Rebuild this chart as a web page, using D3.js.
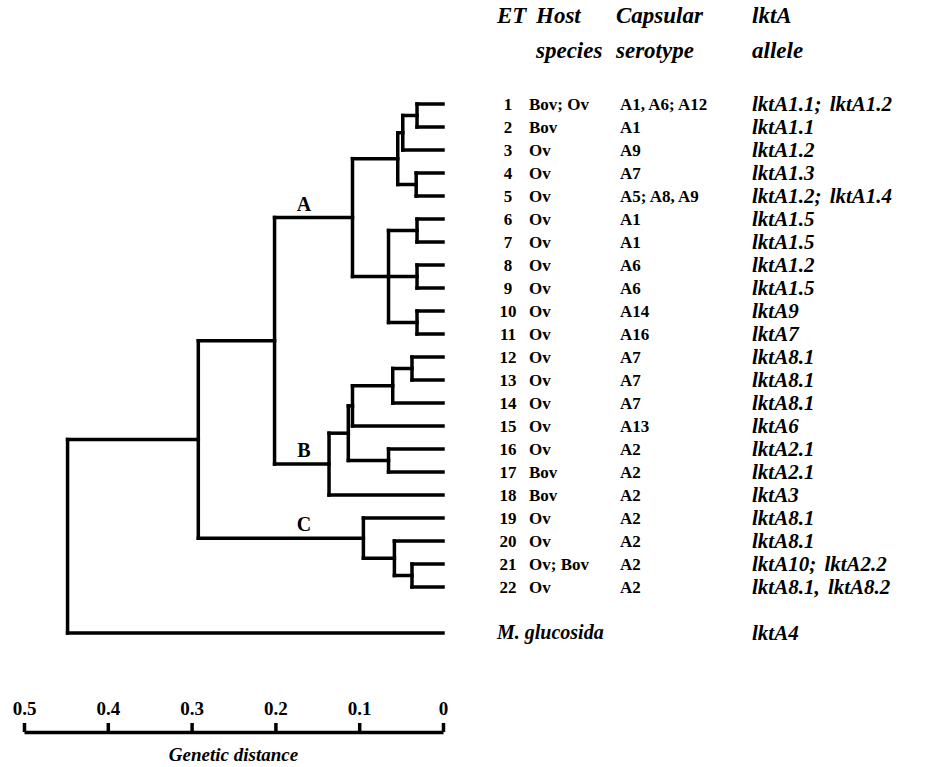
<!DOCTYPE html>
<html>
<head>
<meta charset="utf-8">
<script src="https://cdn.jsdelivr.net/npm/d3@7"></script>
<style>
  body { margin: 0; background: #fff; }
  text { font-family: "Liberation Serif", "Times New Roman", serif; fill: #000; }
</style>
</head>
<body>
<div id="chart"></div>
<script>
// table columns, one entry per ET
var etNumbers = ["1","2","3","4","5","6","7","8","9","10","11","12","13","14","15","16","17","18","19","20","21","22"];
var hostSpecies = ["Bov; Ov","Bov","Ov","Ov","Ov","Ov","Ov","Ov","Ov","Ov","Ov","Ov","Ov","Ov","Ov","Ov","Bov","Bov","Ov","Ov","Ov; Bov","Ov"];
var serotypes = ["A1, A6; A12","A1","A9","A7","A5; A8, A9","A1","A1","A6","A6","A14","A16","A7","A7","A7","A13","A2","A2","A2","A2","A2","A2","A2"];
var alleles = ["lktA1.1; lktA1.2","lktA1.1","lktA1.2","lktA1.3","lktA1.2; lktA1.4","lktA1.5","lktA1.5","lktA1.2","lktA1.5","lktA9","lktA7","lktA8.1","lktA8.1","lktA8.1","lktA6","lktA2.1","lktA2.1","lktA3","lktA8.1","lktA8.1","lktA10; lktA2.2","lktA8.1, lktA8.2"];
var outgroup = "M. glucosida";
var outgroupAllele = "lktA4";

// dendrogram joins: [node, children, genetic distance]
var joins = [
  ["n1_2",   ["1","2"], 0.031],
  ["n1_3",   ["n1_2","3"], 0.048],
  ["n4_5",   ["4","5"], 0.032],
  ["n1_5",   ["n1_3","n4_5"], 0.054],
  ["n6_7",   ["6","7"], 0.031],
  ["n8_9",   ["8","9"], 0.031],
  ["n10_11", ["10","11"], 0.031],
  ["n6_11",  ["n6_7","n8_9","n10_11"], 0.065],
  ["A",      ["n1_5","n6_11"], 0.108],
  ["n12_13", ["12","13"], 0.037],
  ["n12_14", ["n12_13","14"], 0.060],
  ["n12_15", ["n12_14","15"], 0.108],
  ["n16_17", ["16","17"], 0.065],
  ["n12_17", ["n12_15","n16_17"], 0.113],
  ["B",      ["n12_17","18"], 0.136],
  ["n21_22", ["21","22"], 0.037],
  ["n20_22", ["20","n21_22"], 0.058],
  ["C",      ["19","n20_22"], 0.095],
  ["AB",     ["A","B"], 0.201],
  ["ABC",    ["AB","C"], 0.292],
  ["root",   ["ABC", outgroup], 0.448]
];
var cladeLabels = ["A","B","C"];
var distTicks = [0.5, 0.4, 0.3, 0.2, 0.1, 0];

var width = 927, height = 767;

var svg = d3.select("#chart")
  .append("svg")
    .attr("width", width)
    .attr("height", height);

// x: genetic distance, y: row of the table
var x = d3.scaleLinear()
  .domain([0.5, 0])
  .range([24, 443]);

var rowY = d3.scaleLinear()
  .domain([0, 21])
  .range([104, 587]);

// build the tree out of the joins
var nodes = {};
etNumbers.forEach(function(d, i) { nodes[d] = {name: d, dist: 0, row: i}; });
nodes[outgroup] = {name: outgroup, dist: 0, row: 23};
joins.forEach(function(j) {
  nodes[j[0]] = {name: j[0], dist: j[2], children: j[1].map(function(c) { return nodes[c]; })};
});

var root = d3.hierarchy(nodes["root"]);
root.eachAfter(function(n) {
  n.px = x(n.data.dist);
  if (n.children) {
    n.py = (n.children[0].py + n.children[n.children.length - 1].py) / 2;
  } else {
    n.py = rowY(n.data.row);
  }
});

var tree = svg.append("g")
  .attr("fill", "none")
  .attr("stroke", "#000")
  .attr("stroke-width", 3.5)
  .attr("stroke-linecap", "square");

// vertical bar at each join
tree.selectAll(".vbar")
  .data(root.descendants().filter(function(d) { return d.children; }))
  .enter()
  .append("line")
    .attr("x1", function(d) { return d.px; })
    .attr("x2", function(d) { return d.px; })
    .attr("y1", function(d) { return d.children[0].py; })
    .attr("y2", function(d) { return d.children[d.children.length - 1].py; });

// horizontal branch to each child
tree.selectAll(".hbar")
  .data(root.descendants().filter(function(d) { return d.parent; }))
  .enter()
  .append("line")
    .attr("x1", function(d) { return d.parent.px; })
    .attr("x2", function(d) { return d.px; })
    .attr("y1", function(d) { return d.py; })
    .attr("y2", function(d) { return d.py; });

// clade letters
svg.selectAll(".clade")
  .data(root.descendants().filter(function(d) { return cladeLabels.indexOf(d.data.name) >= 0; }))
  .enter()
  .append("text")
    .attr("x", 304)
    .attr("y", function(d) { return d.py - 7; })
    .attr("text-anchor", "middle")
    .attr("font-size", 20)
    .attr("font-weight", "bold")
    .text(function(d) { return d.data.name; });

// distance axis
var axis = svg.append("g")
  .attr("transform", "translate(0,732)")
  .call(d3.axisTop(x)
    .tickValues(distTicks)
    .tickSize(9)
    .tickSizeOuter(0)
    .tickPadding(8)
    .tickFormat(function(d) { return d === 0 ? "0" : d3.format(".1f")(d); }));
axis.select(".domain").attr("stroke-width", 3.5).attr("stroke", "#000");
axis.selectAll(".tick line").attr("stroke-width", 3.5).attr("stroke", "#000");
axis.selectAll(".tick text")
  .attr("font-family", "'Liberation Serif', 'Times New Roman', serif")
  .attr("font-size", 19)
  .attr("font-weight", "bold")
  .attr("fill", "#000");

svg.append("text")
  .attr("x", x(0.25))
  .attr("y", 761)
  .attr("text-anchor", "middle")
  .attr("font-size", 19)
  .attr("font-weight", "bold")
  .attr("font-style", "italic")
  .text("Genetic distance");

// table header
var cols = {et: 508, host: 529, sero: 620, allele: 752};
var head = svg.append("g")
  .attr("font-size", 23)
  .attr("font-weight", "bold")
  .attr("font-style", "italic");
head.append("text").attr("x", 497).attr("y", 23).text("ET");
head.append("text").attr("x", 536).attr("y", 23).text("Host");
head.append("text").attr("x", 536).attr("y", 58).text("species");
head.append("text").attr("x", 616).attr("y", 23).text("Capsular");
head.append("text").attr("x", 616).attr("y", 58).text("serotype");
head.append("text").attr("x", 752).attr("y", 23).text("lktA");
head.append("text").attr("x", 752).attr("y", 58).text("allele");

// table rows
var rows = svg.selectAll(".row")
  .data(etNumbers)
  .enter()
  .append("g")
    .attr("transform", function(d, i) { return "translate(0," + (rowY(i) + 6) + ")"; })
    .attr("font-size", 17);

rows.append("text")
  .attr("x", cols.et)
  .attr("text-anchor", "middle")
  .attr("font-weight", "bold")
  .text(function(d) { return d; });
rows.append("text")
  .attr("x", cols.host)
  .attr("font-weight", "bold")
  .text(function(d, i) { return hostSpecies[i]; });
rows.append("text")
  .attr("x", cols.sero)
  .attr("font-weight", "bold")
  .text(function(d, i) { return serotypes[i]; });
rows.append("text")
  .attr("x", cols.allele)
  .attr("y", 1)
  .attr("font-size", 21)
  .attr("font-weight", "bold")
  .attr("font-style", "italic")
  .attr("word-spacing", 3)
  .text(function(d, i) { return alleles[i]; });

// outgroup row
svg.append("text")
  .attr("x", 497)
  .attr("y", rowY(23) + 6)
  .attr("font-size", 20)
  .attr("font-weight", "bold")
  .attr("font-style", "italic")
  .text(outgroup);
svg.append("text")
  .attr("x", cols.allele)
  .attr("y", rowY(23) + 7)
  .attr("font-size", 21)
  .attr("font-weight", "bold")
  .attr("font-style", "italic")
  .text(outgroupAllele);
</script>
</body>
</html>
